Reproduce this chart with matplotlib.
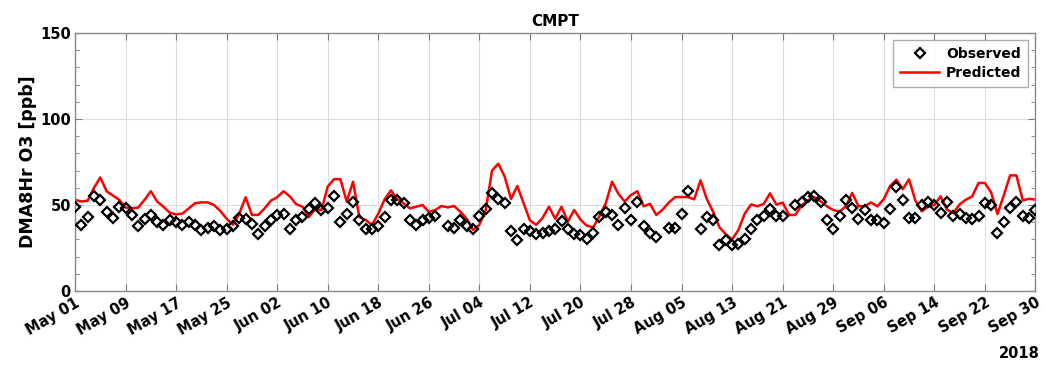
import numpy as np
import pandas as pd
import matplotlib
matplotlib.use("Agg")
import matplotlib.pyplot as plt
import matplotlib.dates as mdates
from matplotlib.ticker import MultipleLocator

plt.rcParams['font.family'] = ['DejaVu Sans']
plt.rcParams['font.weight'] = 'bold'

title = "CMPT"
ylabel = "DMA8Hr O3 [ppb]"
year_label = "2018"
legend_labels = ["Observed", "Predicted"]
dates = pd.date_range("2018-05-01", "2018-09-30", freq="D")

observed = [
    49, 38.5, 43, 55, 53, 46, 42.5, 49, 48, 44,
    38, 42, 44, 40, 38.5, 41, 40, 38.5, 40, 38.5,
    35.5, 36.5, 38, 35.5, 36, 37.5, 42.5, 42, 39, 33,
    37.5, 41, 44, 44.5, 36, 41, 43, 47.5, 51, 47,
    48.5, 55, 40, 44.5, 52, 41.5, 36, 36, 38, 43,
    53, 53, 51, 41, 38.5, 41.5, 42.5, 43.5, np.nan, 38,
    36.5, 41.5, 38, 36, 43.5, 47.5, 57, 53.5, 51, 35,
    29.5, 36, 35, 33, 34, 35, 36, 40.5, 36, 33,
    32.5, 30, 34, 43, 46, 44, 38.5, 48.5, 41.5, 52,
    38, 33.5, 31.5, np.nan, 36.5, 36.5, 45, 58, np.nan, 36,
    43, 41.5, 26.5, 29.5, 26.5, 27.5, 30, 36, 41.5, 43.5,
    47.5, 43.5, 43.5, np.nan, 50, 51.5, 54.5, 55.5, 52, 41.3,
    36, 43.5, 53, 48, 41.7, 47, 41, 41.5, 39.5, 47.5,
    60.5, 53, 42.5, 42.5, 50, 52, 50, 45.5, 52, 43.5,
    45, 42.5, 42, 43.5, 51, 50, 33.5, 40, 48.5, 52,
    43.5, 42.5, 47,
]

predicted = [
    53, 52, 52.5, 60, 66, 58, 55.5, 53, 48.5, 48,
    48.5, 53, 58, 52, 49, 45.5, 44.5, 45, 48, 51,
    51.5, 51.5, 50, 46.5, 42, 38.5, 45, 54.5, 44.2, 44.2,
    48, 52.5, 54.5, 58, 55, 50.5, 49, 43, 47.5, 47,
    60.7, 65, 65, 52, 63.5, 43, 41.3, 38.4, 45, 53.3,
    58.5, 53.3, 51, 48, 49, 50, 46, 47, 49.4, 48.6,
    49.4, 46, 42, 35.5, 38.5, 47, 70, 74, 66.5, 53.5,
    61, 51, 41, 38.5, 42.5, 49, 42, 49, 40.3, 47.1,
    41.5, 38, 37, 43.5, 51, 63.5, 56.5, 52, 55.8, 58,
    49.2, 50.7, 44.2, 47.3, 51.5, 54.6, 54.6, 54.6, 53.3, 64.3,
    53.4, 46, 37, 33, 30, 35.5, 45, 50.3, 49.3, 50.6,
    56.8, 50.2, 51.4, 44.2, 44.2, 49.8, 52.7, 54.5, 52.2, 49.2,
    47.1, 46.1, 49.3, 57, 49.3, 49.3, 51.5, 49.2, 53.4, 61,
    64.7, 59.2, 64.9, 52.6, 46.3, 49, 50, 55, 47.3, 45.3,
    50.3, 53.1, 55, 62.8, 62.8, 57.3, 44.7, 55.6, 67.2, 67.2,
    52.7, 53.6, 53.1,
]

fig = plt.figure(figsize=(10.45, 3.70), dpi=100)
ax = fig.add_axes([0.0718, 0.2135, 0.919, 0.6975])

ax.plot(dates, observed, linestyle='none', marker='D', markersize=5,
        markerfacecolor='none', markeredgecolor='black', markeredgewidth=1.6,
        label=legend_labels[0], zorder=3)
ax.plot(dates, predicted, color='#ff0000', linewidth=1.8,
        label=legend_labels[1], zorder=2)

ax.set_xlim(dates[0], dates[-1])
ax.set_ylim(0, 150)
ax.yaxis.set_major_locator(MultipleLocator(50))
ax.yaxis.set_minor_locator(MultipleLocator(10))
tick_dates = pd.date_range(dates[0], dates[-1], freq="8D")
ax.set_xticks(tick_dates)
ax.xaxis.set_major_formatter(mdates.DateFormatter('%b %d'))

ax.grid(True, which='major', color='#dcdcdc', linewidth=0.8)
ax.set_axisbelow(True)
for s in ax.spines.values():
    s.set_color('#8a8a8a')
    s.set_linewidth(1.0)
ax.tick_params(which='both', direction='in', top=True, right=True,
               color='#7a7a7a')
ax.tick_params(which='major', length=5, labelsize=10.5, pad=3)
ax.tick_params(which='minor', length=3)
for lab in ax.get_xticklabels():
    lab.set_rotation(30)
    lab.set_ha('right')
    lab.set_rotation_mode('anchor')
    lab.set_fontweight('bold')
for lab in ax.get_yticklabels():
    lab.set_fontweight('bold')

ax.set_ylabel(ylabel, fontsize=12.5, fontweight='bold', labelpad=2)
ax.set_title(title, fontsize=11, fontweight='bold', pad=5)

leg = ax.legend(loc='upper right', fontsize=10, frameon=True, fancybox=False,
                edgecolor='#9a9a9a', borderpad=0.5, handlelength=2.8,
                handletextpad=0.5, labelspacing=0.35, borderaxespad=0.5,
                markerfirst=True)
leg.get_frame().set_linewidth(1.0)
for t in leg.get_texts():
    t.set_fontweight('bold')

fig.text(0.995, 0.025, year_label, ha='right', va='bottom', fontsize=10.5,
         fontweight='bold')

fig.savefig("out.png", dpi=100)
